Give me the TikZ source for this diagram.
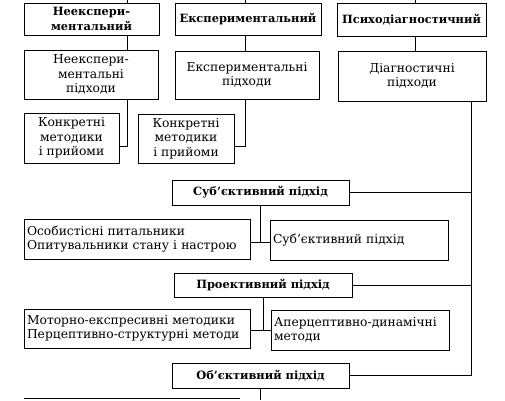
\documentclass[tikz,border=0pt]{standalone}
\usepackage{fontspec}
\setmainfont{DejaVu Serif}
\usetikzlibrary{calc,positioning}

\tikzset{
  blok/.style={draw, line width=0.8pt, align=center, inner sep=2pt,
    font=\fontsize{12.3}{14.6}\selectfont},
  golov/.style={blok, font=\fontsize{11.4}{14.6}\selectfont\bfseries},
  lblok/.style={blok, align=left, text width=#1, inner sep=3pt},
  lin/.style={line width=0.8pt}
}

\begin{document}
\begin{tikzpicture}[x=1pt, y=-1pt]
	\useasboundingbox (0,0) rectangle (505,400);

	% Top row
	\node[golov, minimum width=135, minimum height=32] (nexp) at (91.5,19) {Неекспери-\\ментальний};
	\node[golov, minimum width=146, minimum height=32] (exp) at (248,19) {Експериментальний};
	\node[golov, minimum width=149, minimum height=33] (psy) at (411.5,19.5) {Психодіагностичний};

	% Approaches
	\node[blok, minimum width=134, minimum height=49] (nexpA) at (91,74.5) {Неекспери-\\ментальні\\підходи};
	\node[blok, minimum width=144, minimum height=48] (expA) at (247,75) {Експериментальні\\підходи};
	\node[blok, minimum width=148, minimum height=50] (diag) at (412,76) {Діагностичні\\підходи};

	% Concrete methods
	\node[blok, minimum width=95, minimum height=50] (konk1) at (71.5,138) {Конкретні\\методики\\і прийоми};
	\node[blok, minimum width=96, minimum height=49] (konk2) at (186,138.5) {Конкретні\\методики\\і прийоми};

	% Diagnostic approaches
	\node[golov, minimum width=177, minimum height=25] (subj) at (260.5,192.5) {Суб'єктивний підхід};
	\node[lblok=220, minimum height=40] (osob) at (137,239) {Особистісні питальники\\Опитувальники стану і настрою};
	\node[lblok=172, minimum height=40] (subjR) at (359,240) {Суб'єктивний підхід};

	\node[golov, minimum width=178, minimum height=24] (proj) at (263,285) {Проективний підхід};
	\node[lblok=220, minimum height=39] (motor) at (137,328.5) {Моторно-експресивні методики\\Перцептивно-структурні методи};
	\node[lblok=172, minimum height=40] (aperc) at (360,330) {Аперцептивно-динамічні\\методи};

	\node[golov, minimum width=177, minimum height=25] (obj) at (260.5,375.5) {Об’єктивний підхід};

	% Connectors
	\draw[lin] (127,0) -- (nexp.north -| 127,0);
	\draw[lin] (245,0) -- (exp.north -| 245,0);
	\draw[lin] (415,0) -- (psy.north -| 415,0);
	\draw[lin] (nexp.south -| 127,0) -- (nexpA.north -| 127,0);
	\draw[lin] (exp.south -| 245,0) -- (expA.north -| 245,0);
	\draw[lin] (psy.south -| 415,0) -- (diag.north -| 415,0);
	\draw[lin] (nexpA.south -| 127,0) |- (konk1.east |- 0,146);
	\draw[lin] (expA.south -| 245,0) |- (konk2.east |- 0,146);

	\draw[lin] (diag.south -| 471,0) |- (obj.east);
	\draw[lin] (subj.east) -- (subj.east -| 471,0);
	\draw[lin] (proj.east) -- (proj.east -| 471,0);

	\draw[lin] (subj.south) -- (subj.south |- 0,242) coordinate (s1);
	\draw[lin] (osob.east |- s1) -- (subjR.west |- s1);
	\draw[lin] (proj.south) -- (proj.south |- 0,330) coordinate (p1);
	\draw[lin] (motor.east |- p1) -- (aperc.west |- p1);
	\draw[lin] (obj.south) -- (obj.south |- 0,400);

	% Next box, cut off
	\draw[lin] (24,398.5) -- (240,398.5);
\end{tikzpicture}
\end{document}
